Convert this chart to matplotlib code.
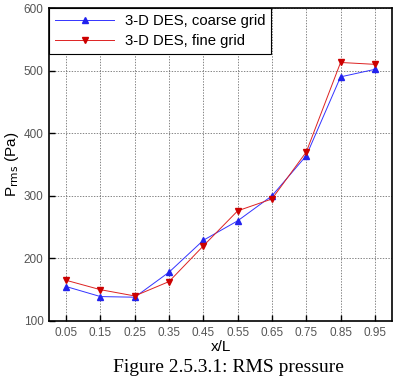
import matplotlib
matplotlib.use("Agg")
import matplotlib.pyplot as plt

x = [0.05, 0.15, 0.25, 0.35, 0.45, 0.55, 0.65, 0.75, 0.85, 0.95]
coarse = [155, 139, 138, 178, 229, 260, 300, 364, 490, 502]
fine = [165, 150, 140, 163, 220, 276, 295, 370, 513, 510]
xticks = x
yticks = [100, 200, 300, 400, 500, 600]

plt.rcParams['font.family'] = ['Liberation Sans', 'DejaVu Sans']

fig = plt.figure(figsize=(3.94, 3.76), dpi=100)
ax = fig.add_axes([0.1244, 0.1463, 0.8706, 0.8324])

ax.plot(x, coarse, color='#3333ff', lw=0.7, marker='^', ms=5,
        mfc='#2222ee', mec='#2222ee', label='3-D DES, coarse grid')
ax.plot(x, fine, color='#dd2222', lw=0.7, marker='v', ms=5,
        mfc='#cc0000', mec='#cc0000', label='3-D DES, fine grid')

ax.set_xlim(0, 1)
ax.set_ylim(100, 600)
ax.set_xticks(xticks)
ax.set_xticklabels(['%.2f' % v for v in xticks])
ax.set_yticks(yticks)
ax.tick_params(direction='in', length=4, width=1, labelsize=8.5, labelcolor='#555555', pad=4)
ax.grid(True, color='#555555', ls=(0, (2, 2)), lw=0.5)
for s in ax.spines.values():
    s.set_linewidth(1.2)

ax.set_xlabel('x/L', fontsize=11, labelpad=1)
ax.set_ylabel(r'P$_{\rm rms}$ (Pa)', fontsize=11, labelpad=2)

leg = ax.legend(loc='upper left', bbox_to_anchor=(0, 1), borderaxespad=0,
                fontsize=10.7, fancybox=False, framealpha=1, edgecolor='black',
                handlelength=4.0, handletextpad=0.7, borderpad=0.4, labelspacing=0.4)
leg.get_frame().set_linewidth(0.8)

fig.text(0.58, 0.0, 'Figure 2.5.3.1: RMS pressure', family='Liberation Serif',
         fontsize=14, ha='center', va='bottom')

fig.savefig('out.png', dpi=100)
